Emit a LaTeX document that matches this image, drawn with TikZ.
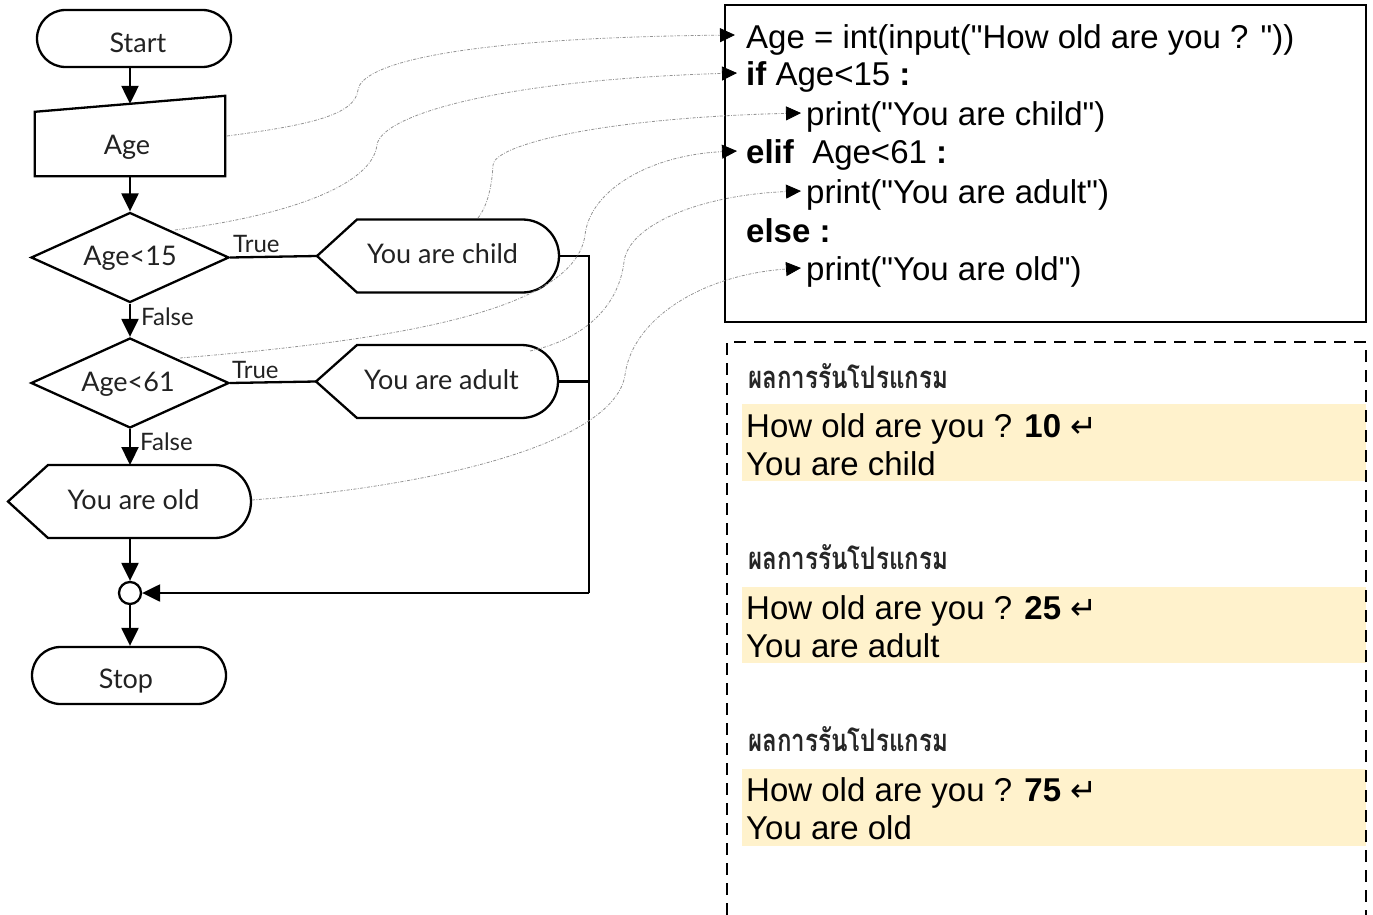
\documentclass[tikz,border=0pt]{standalone}
\usepackage{fontspec}
\setmainfont{Lato}
\newfontfamily\codefont{Liberation Sans}
\newfontfamily\thaifont[Script=Thai]{Loma}
\newfontfamily\symfont{DejaVu Sans}
\usetikzlibrary{arrows.meta,shapes.geometric,shapes.misc,calc}
\definecolor{band}{HTML}{FFF2CC}
\definecolor{ink}{HTML}{222222}

% display (output) symbol: pointed left end, round right end
\newcommand\dispbox[6]{%
  \draw[flow] (#2,#5) -- (#3,#5-#6) -- (#4,#5-#6)
    arc[start angle=-90,end angle=90,radius=#6] -- (#3,#5+#6) -- cycle;
  \coordinate (#1-l) at (#2,#5);
  \coordinate (#1-r) at (#4+#6,#5);
}
\newcommand\retsym{{\symfont\fontsize{32}{34}\selectfont ↵}}

\begin{document}
\begin{tikzpicture}[x=1pt,y=-1pt,
  flow/.style={line width=2.3pt,draw=black},
  lbl/.style={font=\fontsize{27}{30}\selectfont,text=ink,inner sep=0},
  small/.style={font=\fontsize{24}{26}\selectfont,text=ink,inner sep=0,anchor=base west},
  term/.style={rounded rectangle,draw,line width=2.3pt,minimum width=194pt,
    minimum height=57pt,inner sep=0},
  decision/.style={diamond,draw,line width=2.3pt,aspect=2.2,inner sep=0,
    minimum width=198pt,minimum height=90pt},
  arr/.style={line width=2.3pt,-{Triangle[length=18pt,width=17pt]}},
  link/.style={draw=gray!85,line width=0.8pt,
    dash pattern=on 3pt off 1.5pt on 0.8pt off 1.5pt,
    -{Triangle[length=15pt,width=14pt,fill=black,color=black]}},
  code/.style={font=\codefont\fontsize{33}{38}\selectfont,anchor=base west,inner sep=0},
  thai/.style={font=\thaifont\bfseries\fontsize{31}{34}\selectfont,text=black!85,anchor=west,
    inner sep=0,xscale=0.78,transform shape}
]
\useasboundingbox (0,0) rectangle (1373,915);

% ---------- flowchart ----------
\node[term] (start) at (134,38.5) {};
\node[lbl] (startT) at (138,43) {Start};

\node[minimum width=190pt,minimum height=64pt,inner sep=0] (inp) at (130,144) {};
\node[lbl] (inpT0) at (127,147) {Age};
\draw[flow] (inp.south west) -- (inp.north west) -- ([yshift=16pt]inp.north east)
  -- (inp.south east) -- cycle;
\coordinate (inpT) at ([yshift=8pt]inp.north);

\node[decision] (d15) at (130,257.5) {};
\node[lbl] (d15T) at (130,258) {Age<15};
\node[decision] (d61) at (130,383) {};
\node[lbl] (d61T) at (128,384) {Age<61};

\node[lbl] (child) at (442.5,254) {You are child};
\dispbox{child}{317}{357}{522.5}{256}{36.5}
\node[lbl] (adult) at (441.5,380) {You are adult};
\dispbox{adult}{316}{357}{521.5}{381.5}{36.5}
\node[lbl] (old) at (133.5,500) {You are old};
\dispbox{old}{8}{48}{214.5}{501.5}{36.5}
\coordinate (oldT) at (130,465);
\coordinate (oldB) at (130,538);

\node[circle,draw,line width=2.3pt,minimum size=22pt,inner sep=0] (join) at (130,593) {};
\node[term] (stop) at (129,675.5) {};
\node[lbl] (stopT) at (126,681) {Stop};
\coordinate (bus) at (589,593);

\draw[arr] (inpT |- start.south) -- (inpT);
\draw[arr] (inp.south) -- (d15.north);
\draw[arr] (d15.south) -- (d61.north);
\draw[arr] (d61.south) -- (oldT);
\draw[arr] (oldB) -- (join.north);
\draw[arr] (join.south) -- (join.south |- stop.north);

\draw[flow] (d15.east) -- (child-l);
\draw[flow] (d61.east) -- (adult-l);
\draw[flow] (child-r) -| (bus);
\draw[flow] (adult-r) -- (adult-r -| bus);
\draw[arr] (bus) -- (join.east);

\node[small] (t15) at (233,252) {True};
\node[small] (f15) at (141,325) {False};
\node[small] (t61) at (232,378) {True};
\node[small] (f61) at (140,450) {False};

% ---------- program listing ----------
\node[draw,line width=2pt,minimum width=641pt,minimum height=317pt,inner sep=0]
  (listing) at (1045.5,163.5) {};
\node[code] (c1) at (746,49) {Age = int(input("How old are you ? "))};
\node[code] (c2) at (746,86) {\textbf{if} Age<15 \textbf{:}};
\node[code] (c3) at (806,125) {print("You are child")};
\node[code] (c4) at (746,164) {\textbf{elif}\ \ Age<61 \textbf{:}};
\node[code] (c5) at (806,203) {print("You are adult")};
\node[code] (c6) at (746,242) {\textbf{else :}};
\node[code] (c7) at (806,280) {print("You are old")};

\coordinate (e1) at (735,35);
\coordinate (e2) at (737,73);
\coordinate (e3) at (801,113);
\coordinate (e4) at (737,151);
\coordinate (e5) at (801,191);
\coordinate (e6) at (801,268);

\coordinate (s1) at (227,136);
\coordinate (s2) at (175,230);
\coordinate (s3) at (478,218);
\coordinate (s4) at (180,358);
\coordinate (s5) at (530,351);
\coordinate (s6) at (252,500);

% links from flowchart symbols to statements
\draw[link] (s1) .. controls (310,125) and (355,115) .. (358,90)
  .. controls (361,65) and (450,38) .. (e1);
\draw[link] (s2) .. controls (290,215) and (372,185) .. (377,145)
  .. controls (381,115) and (500,80) .. (e2);
\draw[link] (s3) .. controls (488,205) and (492,185) .. (493,165)
  .. controls (494,145) and (600,118) .. (e3);
\draw[link] (s4) .. controls (400,340) and (575,310) .. (585,235)
  .. controls (590,190) and (650,155) .. (e4);
\draw[link] (s5) .. controls (580,340) and (618,310) .. (624,262)
  .. controls (628,225) and (700,195) .. (e5);
\draw[link] (s6) .. controls (450,485) and (615,440) .. (625,375)
  .. controls (632,320) and (700,275) .. (e6);

% ---------- program output ----------
\fill[band] (742,404) rectangle (1366,481);
\fill[band] (742,587) rectangle (1366,663);
\fill[band] (742,769) rectangle (1366,846);
\draw[line width=2pt,dash pattern=on 12pt off 8pt]
  (727,915) -- (727,342) -- (1366,342) -- (1366,915);

\node[thai] (h1) at (748,376) {ผลการรันโปรแกรม};
\node[code] (o1a) at (746,437) {How old are you ? \textbf{10} \retsym};
\node[code] (o1b) at (746,475) {You are child};
\node[thai] (h2) at (748,557) {ผลการรันโปรแกรม};
\node[code] (o2a) at (746,619) {How old are you ? \textbf{25} \retsym};
\node[code] (o2b) at (746,657) {You are adult};
\node[thai] (h3) at (748,739) {ผลการรันโปรแกรม};
\node[code] (o3a) at (746,801) {How old are you ? \textbf{75} \retsym};
\node[code] (o3b) at (746,839) {You are old};
\end{tikzpicture}
\end{document}
